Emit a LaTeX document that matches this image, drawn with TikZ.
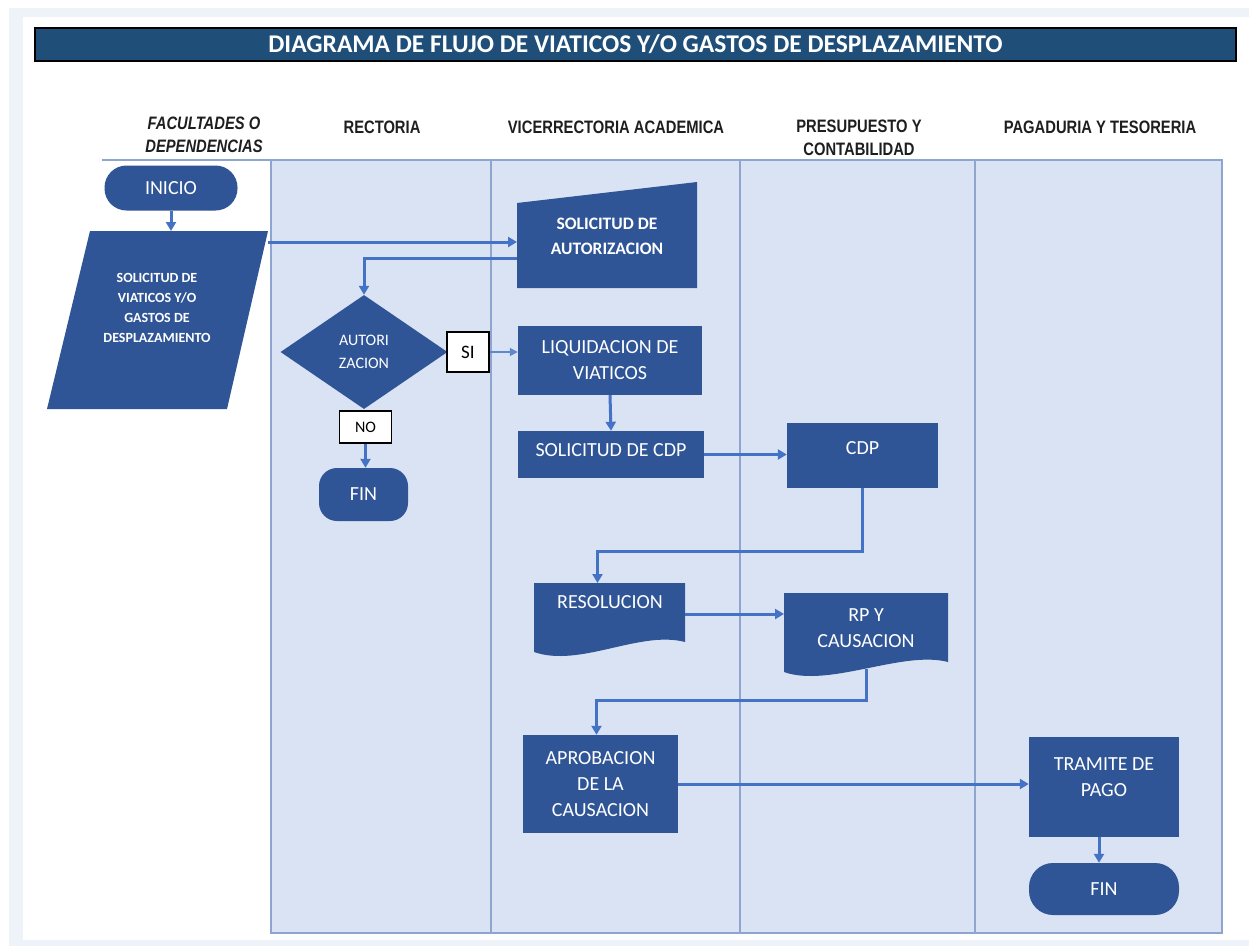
\documentclass[tikz,border=0pt]{standalone}
\usepackage{fontspec}
\usetikzlibrary{arrows.meta,shapes.geometric,calc}
\setmainfont{Carlito}
\newfontfamily\headfont[FakeStretch=0.82]{Liberation Sans}
\definecolor{boxblue}{HTML}{2F5597}
\definecolor{linkblue}{HTML}{4472C4}
\definecolor{lanefill}{HTML}{DAE3F3}
\definecolor{laneline}{HTML}{8EA6CF}
\definecolor{titlefill}{HTML}{1F4E79}
\definecolor{framebg}{HTML}{EEF2F9}
\definecolor{headtext}{HTML}{1E1E1E}

\begin{document}
\begin{tikzpicture}[x=1pt,y=-1pt,
  lane/.style={draw=laneline, line width=1.2pt},
  hdr/.style={font=\headfont\bfseries\fontsize{18}{23}\selectfont, text=headtext, align=center, inner sep=0pt},
  proc/.style={fill=boxblue, text=white, inner sep=0pt, align=center, font=\fontsize{20}{26}\selectfont},
  term/.style={proc},
  frame/.style={inner sep=0pt, outer sep=0pt},
  boxtext/.style={text=white, align=center, inner sep=0pt},
  conn/.style={draw=linkblue, line width=3pt, -{Triangle[length=9pt,width=10pt]}},
  thinconn/.style={draw=linkblue!85, line width=1.6pt, -{Triangle[length=8pt,width=8pt]}},
  tag/.style={draw=black, fill=white, line width=1.2pt, inner sep=0pt, text=black}
]
% page and frame
\useasboundingbox (0,0) rectangle (1249,946);
\fill[white] (0,0) rectangle (1249,946);
\fill[framebg] (9,8) rectangle (1249,946);
\fill[white] (23,17) rectangle (1249,940);

% title bar
\node[draw=black, line width=1.5pt, fill=titlefill, minimum width=1201pt, minimum height=33pt,
      inner sep=0pt, text=white, font=\bfseries\fontsize{25.5}{26}\selectfont] (title) at (635.5,44.5)
  {DIAGRAMA DE FLUJO DE VIATICOS Y/O GASTOS DE DESPLAZAMIENTO};

% swimlanes
\fill[lanefill] (271,160) rectangle (1222,933);
\draw[lane] (102,160) -- (1222,160) -- (1222,933) -- (271,933) -- (271,160);
\draw[lane] (491,160) -- (491,933);
\draw[lane] (740,160) -- (740,933);
\draw[lane] (975,160) -- (975,933);

% lane headers
\node[hdr, font=\headfont\bfseries\itshape\fontsize{18}{23}\selectfont] (h1) at (204,135) {FACULTADES O\\DEPENDENCIAS};
\node[hdr] (h2) at (382,127) {RECTORIA};
\node[hdr] (h3) at (616,127) {VICERRECTORIA ACADEMICA};
\node[hdr] (h4) at (859,138) {PRESUPUESTO Y\\CONTABILIDAD};
\node[hdr] (h5) at (1100,127) {PAGADURIA Y TESORERIA};

% start
\node[term, minimum width=133pt, minimum height=45pt, rounded corners=22pt] (ini) at (171,188) {INICIO};

% request (parallelogram)
\node[frame, minimum width=221pt, minimum height=178pt] (sol) at (157.5,320) {};
\fill[boxblue] ([xshift=43pt]sol.north west) -- (sol.north east) -- ([xshift=-41pt]sol.south east) -- (sol.south west) -- cycle;
\node[boxtext, font=\bfseries\fontsize{14}{20}\selectfont] (solT) at (157,308) {SOLICITUD DE\\VIATICOS Y/O\\GASTOS DE\\DESPLAZAMIENTO};

% authorisation request (manual input)
\node[frame, minimum width=180pt, minimum height=106pt] (sa) at (607,235) {};
\fill[boxblue] ([yshift=-21pt]sa.north west) -- (sa.north east) -- (sa.south east) -- (sa.south west) -- cycle;
\node[boxtext, font=\bfseries\fontsize{17.5}{25}\selectfont] (saT) at (607,236.5) {SOLICITUD DE\\AUTORIZACION};

% decision
\node[diamond, fill=boxblue, minimum width=167pt, minimum height=114pt, inner sep=0pt, text=white,
      align=center, font=\fontsize{16}{23}\selectfont] (dia) at (364,352) {AUTORI\\ZACION};
\node[tag, minimum width=42pt, minimum height=40pt, font=\fontsize{19}{19}\selectfont] (si) at (468,352) {SI};
\node[tag, minimum width=52pt, minimum height=32pt, font=\fontsize{16}{16}\selectfont] (no) at (365.5,427) {NO};
\node[term, minimum width=89pt, minimum height=53pt, rounded corners=18pt] (fin1) at (363.5,494.5) {FIN};

% process boxes
\node[proc, minimum width=184pt, minimum height=69pt] (liq) at (610,360.5) {LIQUIDACION DE\\VIATICOS};
\node[proc, minimum width=186pt, minimum height=47pt, text depth=9pt] (scdp) at (611,454.5) {SOLICITUD DE CDP};
\node[proc, minimum width=151pt, minimum height=65pt, text depth=16pt] (cdp) at (862.5,455.5) {CDP};

% documents
\node[frame, minimum width=151pt, minimum height=69pt] (res) at (609.5,617.5) {};
\fill[boxblue] (res.north west) -- (res.north east) -- ([yshift=10pt]res.south east)
  .. controls ([xshift=-45pt,yshift=22pt]res.south east) and ([xshift=46pt,yshift=-16pt]res.south west) .. (res.south west) -- cycle;
\node[boxtext, font=\fontsize{20}{26}\selectfont] (resT) at (610,602) {RESOLUCION};

\node[frame, minimum width=164pt, minimum height=79pt] (rp) at (866,632.5) {};
\fill[boxblue] (rp.north west) -- (rp.north east) -- ([yshift=10pt]rp.south east)
  .. controls ([xshift=-45pt,yshift=22pt]rp.south east) and ([xshift=45pt,yshift=-16pt]rp.south west) .. (rp.south west) -- cycle;
\node[boxtext, font=\fontsize{20}{26}\selectfont] (rpT) at (866,628) {RP Y\\CAUSACION};

\node[proc, minimum width=155pt, minimum height=98pt] (apr) at (600.5,784) {APROBACION\\DE LA\\CAUSACION};
\node[proc, minimum width=150pt, minimum height=100pt, text depth=19pt] (tram) at (1104,787) {TRAMITE DE\\PAGO};
\node[term, minimum width=150pt, minimum height=52pt, rounded corners=24pt] (fin2) at (1104,889) {FIN};

% connectors
\draw[conn] (ini.south) -- (ini.south |- sol.north);
\draw[conn] ([yshift=-11pt]sol.north east) -- ([yshift=-11pt]sol.north east -| sa.west);
\draw[conn] ([yshift=-23pt]sa.west) -| (dia.north);
\draw[thinconn] (si.east) -- (si.east -| liq.west);
\draw[conn] (no.south) -- (no.south |- fin1.north);
\draw[conn] (liq.south) -- (scdp.north);
\draw[conn] (scdp.east) -- (scdp.east -| cdp.west);
\draw[conn] (cdp.south) -- ++(0,63) -| ([xshift=-12pt]res.north);
\draw[conn] ([yshift=3.5pt]res.east) -- ([yshift=3.5pt]res.east -| rp.west);
\draw[conn] ([yshift=3pt]rp.south) -- ++(0,31) -| ([xshift=-4pt]apr.north);
\draw[conn] (apr.east) -- (apr.east -| tram.west);
\draw[conn] ([xshift=-5pt]tram.south) -- ([xshift=-5pt]tram.south |- fin2.north);
\end{tikzpicture}
\end{document}
